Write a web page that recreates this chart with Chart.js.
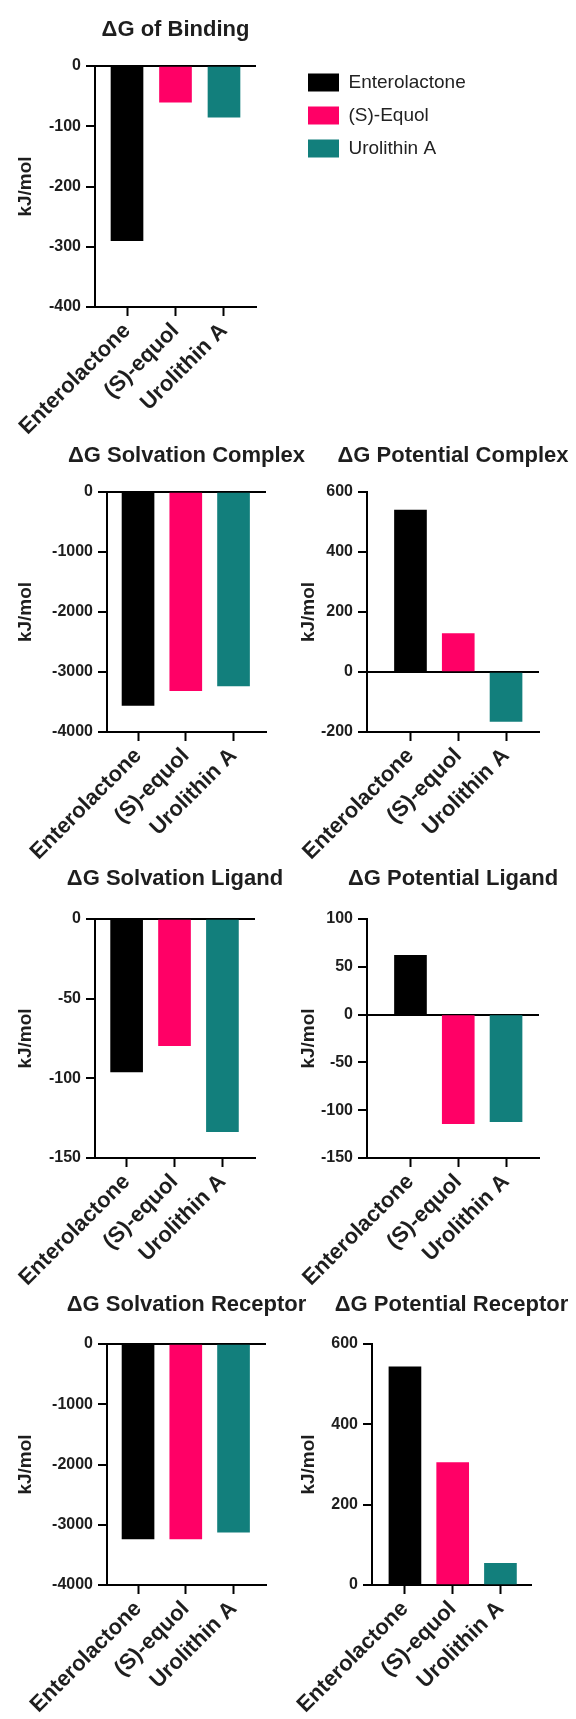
<!DOCTYPE html>
<html>
<head>
<meta charset="utf-8">
<title>ΔG components</title>
<script src="https://cdn.jsdelivr.net/npm/chart.js@4.4.1/dist/chart.umd.min.js"></script>
<style>
  html, body { margin: 0; padding: 0; background: #fff; overflow: hidden; }
  #page { position: relative; width: 576px; height: 1719px; overflow: hidden; }
  #page canvas { position: absolute; }
</style>
</head>
<body>
<div id="page"></div>
<script>
const compounds = ['Enterolactone', '(S)-equol', 'Urolithin A'];
const legendLabels = ['Enterolactone', '(S)-Equol', 'Urolithin A'];
const compoundColors = ['#000000', '#FF0066', '#127F7C'];

// kJ/mol, one value per compound
const bindingEnergy = [-290, -60, -85];
const solvationComplex = [-3555, -3310, -3230];
const potentialComplex = [540, 128, -165];
const solvationLigand = [-96, -79.5, -133.5];
const potentialLigand = [62, -114, -112];
const solvationReceptor = [-3235, -3235, -3125];
const potentialReceptor = [543, 305, 54];

// y axis: min, max, step
const bindingRange = [-400, 0, 100];
const solvationComplexRange = [-4000, 0, 1000];
const potentialComplexRange = [-200, 600, 200];
const solvationLigandRange = [-150, 0, 50];
const potentialLigandRange = [-150, 100, 50];
const solvationReceptorRange = [-4000, 0, 1000];
const potentialReceptorRange = [0, 600, 200];

const FONT = "'Liberation Sans', Arial, sans-serif";
const TEXT = '#1e1e1e';
const TITLE_BLOCK = 60;
const AXIS_BLOCK = 150;

Chart.defaults.font.family = FONT;

// plot = [left, top, right, bottom] of the chart area on the page
const panels = [
    { title: 'ΔG of Binding', values: bindingEnergy, range: bindingRange,
      canvasLeft: 0, plot: [95, 66, 256, 307], titleGap: 36.5, xRange: [0.34, 3.66] },
    { title: 'ΔG Solvation Complex', values: solvationComplex, range: solvationComplexRange,
      canvasLeft: 0, plot: [107, 492, 266, 732], titleGap: 36, xRange: [0.35, 3.68] },
    { title: 'ΔG Potential Complex', values: potentialComplex, range: potentialComplexRange,
      canvasLeft: 283, plot: [367, 492, 539, 732], titleGap: 36, xRange: [0.09, 3.69] },
    { title: 'ΔG Solvation Ligand', values: solvationLigand, range: solvationLigandRange,
      canvasLeft: 0, plot: [95, 919, 255, 1158], titleGap: 40, xRange: [0.34, 3.68] },
    { title: 'ΔG Potential Ligand', values: potentialLigand, range: potentialLigandRange,
      canvasLeft: 283, plot: [367, 919, 539, 1158], titleGap: 40, xRange: [0.09, 3.69] },
    { title: 'ΔG Solvation Receptor', values: solvationReceptor, range: solvationReceptorRange,
      canvasLeft: 0, plot: [107, 1344, 266, 1585], titleGap: 39, xRange: [0.35, 3.68] },
    { title: 'ΔG Potential Receptor', values: potentialReceptor, range: potentialReceptorRange,
      canvasLeft: 283, plot: [372, 1344, 531, 1585], titleGap: 39, xRange: [0.31, 3.64] }
];

function addCanvas(left, top, width, height) {
    const canvas = document.createElement('canvas');
    canvas.width = width;
    canvas.height = height;
    canvas.style.left = left + 'px';
    canvas.style.top = top + 'px';
    document.getElementById('page').appendChild(canvas);
    return canvas;
}

function drawPanel(p) {
    const [left, top, right, bottom] = p.plot;
    // canvas is made symmetric around the plot so the title centres over it
    const width = Math.round(left + right - 2 * p.canvasLeft);
    const rightGap = p.canvasLeft + width - right;
    const canvas = addCanvas(p.canvasLeft, top - TITLE_BLOCK,
        width, TITLE_BLOCK + (bottom - top) + AXIS_BLOCK);

    const titleTop = TITLE_BLOCK - p.titleGap - 13.2;
    const titleBottom = TITLE_BLOCK - 26.4 - titleTop;

    new Chart(canvas, {
        type: 'bar',
        data: {
            datasets: [{
                data: p.values.map((v, i) => ({ x: i + 1, y: v })),
                backgroundColor: compoundColors,
                borderWidth: 0,
                barThickness: 32
            }]
        },
        options: {
            responsive: false,
            animation: false,
            events: [],
            layout: { padding: 0 },
            plugins: {
                legend: { display: false },
                tooltip: { enabled: false },
                title: {
                    display: true,
                    text: p.title,
                    color: TEXT,
                    font: { size: 22, weight: 'bold' },
                    padding: { top: titleTop, bottom: titleBottom }
                }
            },
            scales: {
                x: {
                    type: 'linear',
                    min: p.xRange[0],
                    max: p.xRange[1],
                    bounds: 'data',
                    offset: false,
                    afterBuildTicks: s => { s.ticks = compounds.map((c, i) => ({ value: i + 1 })); },
                    afterFit: s => { s.height = AXIS_BLOCK; s.paddingLeft = 0; s.paddingRight = 0; },
                    border: { display: true, color: '#000', width: 2 },
                    grid: {
                        offset: false,
                        drawOnChartArea: false,
                        tickLength: 9,
                        tickWidth: 2,
                        tickColor: '#000'
                    },
                    ticks: {
                        autoSkip: false,
                        minRotation: 45,
                        maxRotation: 45,
                        padding: 2,
                        color: TEXT,
                        font: { size: 22, weight: 'bold' },
                        callback: v => compounds[v - 1]
                    }
                },
                y: {
                    min: p.range[0],
                    max: p.range[1],
                    afterFit: s => { s.width = left - p.canvasLeft; s.paddingTop = 0; s.paddingBottom = 0; },
                    border: { display: true, color: '#000', width: 2 },
                    grid: {
                        color: c => (c.tick && c.tick.value === 0 ? '#000' : 'rgba(0,0,0,0)'),
                        lineWidth: 2,
                        tickLength: 9,
                        tickWidth: 2,
                        tickColor: '#000'
                    },
                    ticks: {
                        stepSize: p.range[2],
                        padding: 5,
                        color: TEXT,
                        font: { size: 16, weight: 'bold' },
                        callback: v => String(v)
                    },
                    title: {
                        display: true,
                        text: 'kJ/mol',
                        color: TEXT,
                        font: { size: 19, weight: 'bold' },
                        padding: { top: 14, bottom: 0 }
                    }
                },
                // empty box on the right, only keeps the plot where it belongs
                spacer: {
                    type: 'linear',
                    position: 'right',
                    grid: { display: false },
                    border: { display: false },
                    ticks: { display: false },
                    afterFit: s => { s.width = rightGap; s.paddingTop = 0; s.paddingBottom = 0; }
                }
            }
        }
    });
}

function drawLegend() {
    const canvas = addCanvas(294, 59, 282, 140);
    new Chart(canvas, {
        type: 'bar',
        data: {
            labels: [],
            datasets: legendLabels.map((name, i) => ({
                label: name,
                data: [],
                backgroundColor: compoundColors[i],
                borderWidth: 0
            }))
        },
        options: {
            responsive: false,
            animation: false,
            events: [],
            scales: { x: { display: false }, y: { display: false } },
            plugins: {
                tooltip: { enabled: false },
                legend: {
                    position: 'left',
                    align: 'start',
                    maxWidth: 270,
                    labels: {
                        boxWidth: 31,
                        boxHeight: 18,
                        padding: 14,
                        color: '#222',
                        font: { size: 19 }
                    }
                }
            }
        }
    });
}

panels.forEach(drawPanel);
drawLegend();
</script>
</body>
</html>
